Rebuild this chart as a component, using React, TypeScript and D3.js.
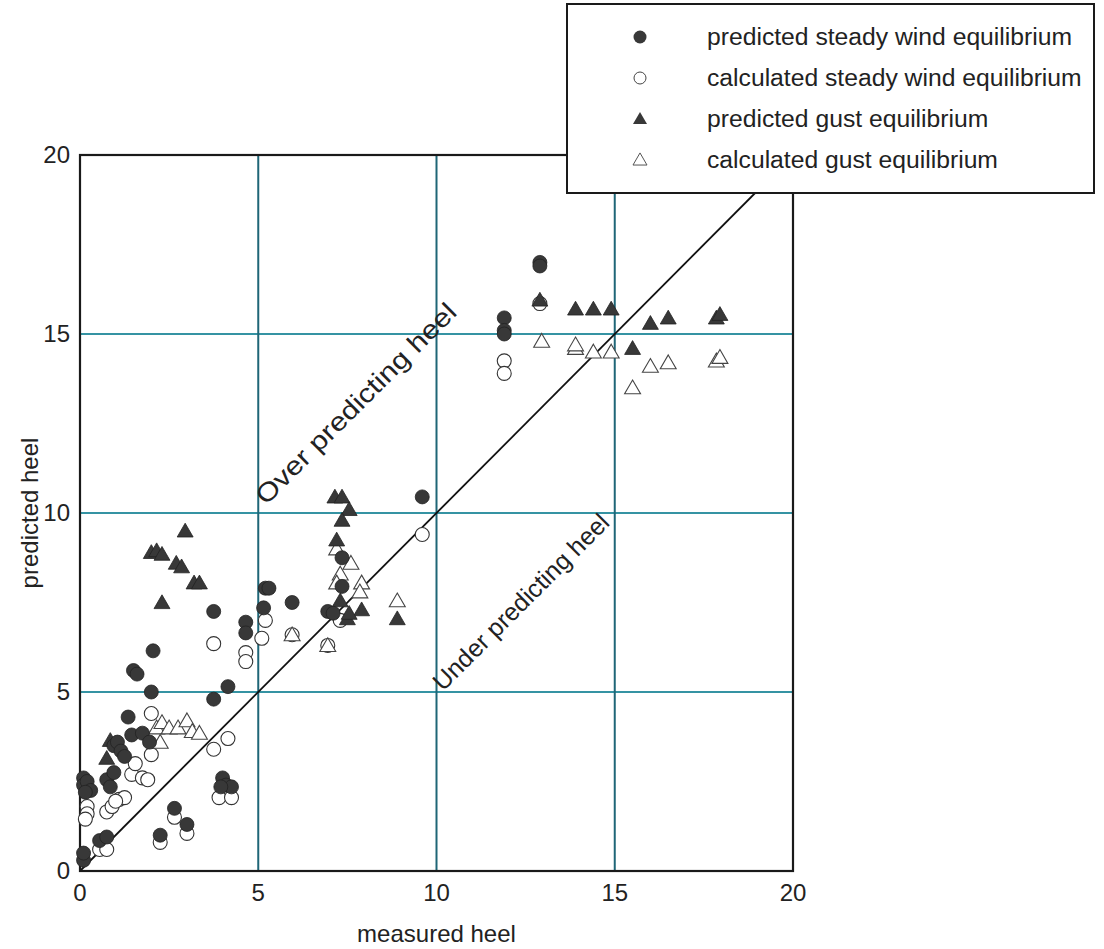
import React from "react";
import * as d3 from "d3";

type P = [number, number];

const predictedSteady: P[] = [
  [0.1, 0.3], [0.1, 0.5], [0.55, 0.85], [0.75, 0.95],
  [0.1, 2.6], [0.1, 2.4], [0.2, 2.5], [0.3, 2.25], [0.15, 2.2],
  [0.75, 2.55], [0.95, 2.75], [0.85, 2.35],
  [0.95, 3.5], [1.05, 3.6], [1.15, 3.35], [1.25, 3.2],
  [1.45, 3.8], [1.75, 3.85], [1.95, 3.6], [1.35, 4.3],
  [2.0, 5.0], [1.5, 5.6], [1.6, 5.5], [2.05, 6.15],
  [2.65, 1.75], [3.0, 1.3], [2.25, 1.0],
  [3.75, 4.8], [4.15, 5.15],
  [4.0, 2.6], [4.1, 2.4], [4.25, 2.35], [3.95, 2.35],
  [3.75, 7.25], [4.65, 6.95], [4.65, 6.65],
  [5.15, 7.35], [5.2, 7.9], [5.3, 7.9], [5.95, 7.5],
  [6.95, 7.25], [7.1, 7.2], [7.35, 8.75], [7.35, 7.95],
  [9.6, 10.45],
  [11.9, 15.45], [11.9, 15.1], [11.9, 15.0],
  [12.9, 17.0], [12.9, 16.9],
];

const calculatedSteady: P[] = [
  [0.55, 0.6], [0.75, 0.6],
  [0.2, 1.8], [0.2, 1.6], [0.15, 1.45],
  [0.75, 1.65], [0.9, 1.8], [1.1, 2.0], [1.25, 2.05], [1.0, 1.95],
  [1.45, 2.7], [1.75, 2.6], [1.9, 2.55], [1.55, 3.0], [2.0, 3.25],
  [2.0, 4.4],
  [2.65, 1.5], [3.0, 1.05], [2.25, 0.8],
  [3.75, 3.4], [4.15, 3.7], [3.9, 2.05], [4.25, 2.05],
  [3.75, 6.35], [4.65, 6.1], [4.65, 5.85],
  [5.2, 7.0], [5.1, 6.5], [5.95, 6.6], [6.95, 6.3], [7.3, 7.0],
  [9.6, 9.4],
  [11.9, 14.25], [11.9, 13.9],
  [12.9, 15.85],
];

const predictedGust: P[] = [
  [0.85, 3.65], [0.75, 3.15],
  [2.0, 8.9], [2.15, 8.95], [2.3, 8.85], [2.7, 8.6], [2.85, 8.5],
  [2.95, 9.5], [3.2, 8.05], [3.35, 8.05], [2.3, 7.5],
  [7.15, 10.45], [7.35, 10.45], [7.55, 10.1], [7.35, 9.8], [7.2, 9.25],
  [7.3, 7.55], [7.5, 7.05], [7.9, 7.3], [7.55, 7.2], [8.9, 7.05],
  [12.9, 15.95],
  [13.9, 15.7], [14.4, 15.7], [14.9, 15.7],
  [15.5, 14.6], [16.0, 15.3], [16.5, 15.45],
  [17.85, 15.45], [17.95, 15.55],
];

const calculatedGust: P[] = [
  [2.15, 4.0], [2.3, 4.15], [2.5, 4.0], [2.75, 4.0], [3.0, 4.2],
  [3.15, 3.9], [3.35, 3.85], [2.25, 3.6],
  [5.95, 6.6], [6.95, 6.3],
  [7.2, 9.0], [7.6, 8.6], [7.3, 8.3], [7.2, 8.05], [7.9, 8.05], [7.85, 7.8],
  [8.9, 7.55],
  [12.95, 14.8],
  [13.9, 14.6], [13.9, 14.7], [14.4, 14.5], [14.9, 14.5],
  [15.5, 13.5], [16.0, 14.1], [16.5, 14.2],
  [17.85, 14.25], [17.95, 14.35],
];

const ticks = [0, 5, 10, 15, 20];
const gridValues = [5, 10, 15];
const legendLabels = [
  "predicted steady wind equilibrium",
  "calculated steady wind equilibrium",
  "predicted gust equilibrium",
  "calculated gust equilibrium",
];
const xTitle = "measured heel";
const yTitle = "predicted heel";
const overLabel = "Over predicting heel";
const underLabel = "Under predicting heel";

const FONT = "'Liberation Sans', Arial, sans-serif";
const DARK = "#383838";

const x = d3.scaleLinear().domain([0, 20]).range([80, 793]);
const y = d3.scaleLinear().domain([0, 20]).range([871, 155]);

const triPath = (s: number) => d3.symbol().type(d3.symbolTriangle).size(s)() as string;

const Circle = ({ cx, cy, filled, r }: { cx: number; cy: number; filled: boolean; r: number }) => (
  <circle cx={cx} cy={cy} r={r} fill={filled ? DARK : "#fff"} stroke={filled ? "#222" : "#333"} strokeWidth={filled ? 0.8 : 1.1} />
);

const Tri = ({ cx, cy, filled, s }: { cx: number; cy: number; filled: boolean; s: number }) => (
  <path d={triPath(s)} transform={`translate(${cx},${cy + 1.5})`} fill={filled ? DARK : "#fff"} stroke={filled ? "#222" : "#444"} strokeWidth={filled ? 0.8 : 1.1} />
);

export default function App() {
  const [x0, x1] = x.range();
  const [y0, y1] = y.range();
  return (
    <svg width={1104} height={949} style={{ position: "absolute", left: 0, top: 0, background: "#fff" }} fontFamily={FONT}>
      <rect x={0} y={0} width={1104} height={949} fill="#fff" />
      {gridValues.map((v) => (
        <line key={"h" + v} x1={x0} x2={x1} y1={y(v)} y2={y(v)} stroke="#3593a3" strokeWidth={2} />
      ))}
      {gridValues.map((v) => (
        <line key={"v" + v} x1={x(v)} x2={x(v)} y1={y0} y2={y1} stroke="#1f6677" strokeWidth={2} />
      ))}
      <line x1={x(0)} y1={y(0)} x2={x(20)} y2={y(20)} stroke="#111" strokeWidth={1.8} />
      <rect x={x0} y={y1} width={x1 - x0} height={y0 - y1} fill="none" stroke="#1a1a1a" strokeWidth={2.2} />
      <text transform={`translate(266,506) rotate(-45)`} fontSize={26} fill="#222" textLength={272} lengthAdjust="spacingAndGlyphs">{overLabel}</text>
      <text transform={`translate(443,692) rotate(-45)`} fontSize={25} fill="#222">{underLabel}</text>
      {calculatedSteady.map((d, i) => (
        <Circle key={"cs" + i} cx={x(d[0])} cy={y(d[1])} filled={false} r={7} />
      ))}
      {calculatedGust.map((d, i) => (
        <Tri key={"cg" + i} cx={x(d[0])} cy={y(d[1])} filled={false} s={110} />
      ))}
      {predictedGust.map((d, i) => (
        <Tri key={"pg" + i} cx={x(d[0])} cy={y(d[1])} filled={true} s={110} />
      ))}
      {predictedSteady.map((d, i) => (
        <Circle key={"ps" + i} cx={x(d[0])} cy={y(d[1])} filled={true} r={7} />
      ))}
      {ticks.map((t) => (
        <text key={"xt" + t} x={x(t)} y={y0 + 30} textAnchor="middle" fontSize={24} fill="#222">{t}</text>
      ))}
      {ticks.map((t) => (
        <text key={"yt" + t} x={x0 - 10} y={y(t) + 8} textAnchor="end" fontSize={24} fill="#222">{t}</text>
      ))}
      <text x={(x0 + x1) / 2} y={942} textAnchor="middle" fontSize={24} fill="#222">{xTitle}</text>
      <text transform={`translate(38,${(y0 + y1) / 2}) rotate(-90)`} textAnchor="middle" fontSize={24} fill="#222">{yTitle}</text>
      <rect x={567} y={4} width={527} height={189} fill="#fff" stroke="#1a1a1a" strokeWidth={2} />
      {legendLabels.map((lab, i) => {
        const cy = 37 + i * 41;
        return (
          <g key={lab}>
            {i === 0 && <circle cx={640} cy={cy} r={6.5} fill={DARK} />}
            {i === 1 && <circle cx={640} cy={cy} r={6} fill="#fff" stroke="#444" strokeWidth={1} />}
            {i === 2 && <path d={triPath(85)} transform={`translate(640,${cy + 1})`} fill={DARK} />}
            {i === 3 && <path d={triPath(85)} transform={`translate(640,${cy + 1})`} fill="#fff" stroke="#555" strokeWidth={1} />}
            <text x={707} y={cy + 8} fontSize={24.7} fill="#222">{lab}</text>
          </g>
        );
      })}
    </svg>
  );
}
